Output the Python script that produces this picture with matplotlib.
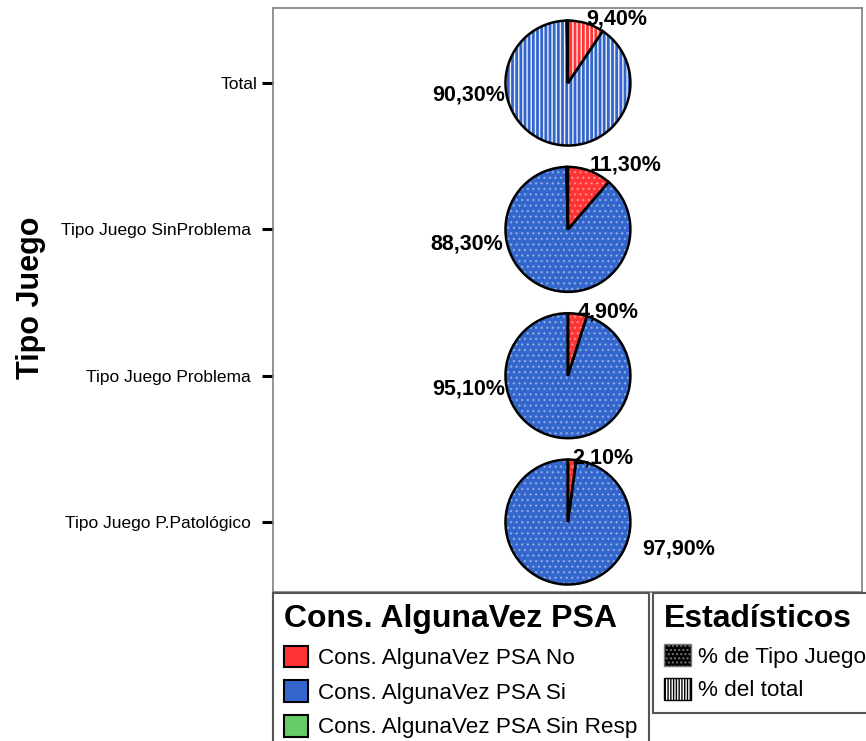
import matplotlib
matplotlib.use("Agg")
import matplotlib.pyplot as plt
import numpy as np
from matplotlib.patches import Patch
from matplotlib.font_manager import FontProperties

plt.rcParams["font.family"] = ["Liberation Sans", "DejaVu Sans"]
plt.rcParams["hatch.linewidth"] = 1.0

# categories, top to bottom
groups = ["Total", "Tipo Juego SinProblema", "Tipo Juego Problema", "Tipo Juego P.Patológico"]
# percent per answer (No, Si, Sin Resp)
pct_no = [9.40, 11.30, 4.90, 2.10]
pct_si = [90.30, 88.30, 95.10, 97.90]
pct_sr = [0.30, 0.40, 0.00, 0.00]
answers = ["Cons. AlgunaVez PSA No", "Cons. AlgunaVez PSA Si", "Cons. AlgunaVez PSA Sin Resp"]
stats = ["% de Tipo Juego", "% del total"]

RED = "#FF3333"
BLUE = "#3366CC"
GREEN = "#66CC66"
colors = [RED, BLUE, GREEN]

W, H = 866, 741
fig = plt.figure(figsize=(W / 100, H / 100), dpi=100)
ax = fig.add_axes([273 / W, (H - 592) / H, (862 - 273) / W, (592 - 8) / H])

ypos = [3, 2, 1, 0]
cx = 2.016
radius = 0.427

# big-slice label placement (x offset, baseline offset, alignment)
si_label_pos = [(-0.43, -0.12, "right"), (-0.44, -0.14, "right"),
                (-0.43, -0.13, "right"), (0.51, -0.225, "left")]

for i, g in enumerate(groups):
    vals = np.array([pct_no[i], pct_si[i], pct_sr[i]]) / 100.0
    cy = ypos[i]
    hatch = "||||" if g == "Total" else "..."
    halpha = 0.9 if g == "Total" else 0.35
    common = dict(center=(cx, cy), radius=radius, startangle=90,
                  counterclock=False, frame=True, normalize=False)
    ax.pie(vals, colors=colors, wedgeprops=dict(linewidth=0), **common)
    ax.pie(vals, wedgeprops=dict(fill=False, edgecolor="white", linewidth=0,
                                 hatch=hatch, alpha=halpha), **common)
    ax.pie(vals, wedgeprops=dict(fill=False, edgecolor="black", linewidth=1.8), **common)

    # small slice label sits at the slice's angle, just above the pie
    mid = np.deg2rad(90 - pct_no[i] * 3.6 / 2)
    ax.text(cx + radius * np.cos(mid), cy + 0.40, f"{pct_no[i]:.2f}%".replace(".", ","),
            ha="left", va="baseline", fontsize=15.5, fontweight="bold")
    dx, dy, ha = si_label_pos[i]
    ax.text(cx + dx, cy + dy, f"{pct_si[i]:.2f}%".replace(".", ","),
            ha=ha, va="baseline", fontsize=15.5, fontweight="bold")

ax.set_aspect("auto")
ax.set_xlim(0, 4.026)
ax.set_ylim(-0.478, 3.513)
ax.set_xticks([])
ax.set_yticks(ypos)
ax.set_yticklabels(groups, fontsize=12.5)
ax.tick_params(axis="y", direction="out", length=8, width=2.2, color="black", pad=8)
ax.get_yticklabels()[0].set_x(0.012)
for s in ax.spines.values():
    s.set_color("#808080")
    s.set_linewidth(1.2)

ax.set_ylabel("Tipo Juego", fontsize=22, fontweight="bold")
ax.yaxis.set_label_coords(-0.386, 0.503)

# legends below the plot box
title_font = FontProperties(family="Liberation Sans", size=23, weight="bold")
answer_handles = [Patch(facecolor=c, edgecolor="black", linewidth=1.5) for c in colors]
leg1 = fig.legend(answer_handles, answers, loc="upper left",
                  bbox_to_anchor=(273 / W, 1 - 593 / H), bbox_transform=fig.transFigure,
                  title="Cons. AlgunaVez PSA", title_fontproperties=title_font,
                  prop={"size": 16.2}, alignment="left", fancybox=False, framealpha=1,
                  edgecolor="#555555", borderpad=0.5, borderaxespad=0,
                  handlelength=1.07, handleheight=1.1, handletextpad=0.45, labelspacing=0.5)
leg1.get_frame().set_linewidth(1.5)

stat_handles = [Patch(facecolor="black", edgecolor="#777777", hatch="...."),
                Patch(facecolor="white", edgecolor="black", hatch="||||||")]
leg2 = fig.legend(stat_handles, stats, loc="upper left",
                  bbox_to_anchor=(653 / W, 1 - 593 / H), bbox_transform=fig.transFigure,
                  title="Estadísticos", title_fontproperties=title_font,
                  prop={"size": 16.2}, alignment="left", fancybox=False, framealpha=1,
                  edgecolor="#555555", borderpad=0.5, borderaxespad=0,
                  handlelength=1.17, handleheight=1.1, handletextpad=0.35, labelspacing=0.45)
leg2.get_frame().set_linewidth(1.5)

fig.savefig("out.png", dpi=100)
